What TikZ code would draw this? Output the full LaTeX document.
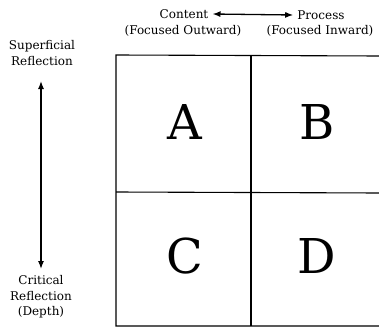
\documentclass[tikz,border=0pt]{standalone}
\usepackage{fontspec}
\setmainfont{DejaVu Serif}
\usetikzlibrary{arrows.meta}
\begin{document}
\begin{tikzpicture}[x=1pt,y=-1pt,
  lbl/.style={font=\fontsize{12}{15.5}\selectfont, align=center, inner sep=0pt},
  big/.style={font=\fontsize{48}{52}\selectfont, inner sep=0pt},
  grid/.style={line width=1.1pt},
  arr/.style={line width=1.3pt, {Latex[length=8pt,width=6pt]}-{Latex[length=8pt,width=6pt]}}]
\useasboundingbox (0,0) rectangle (379,329);
% grid
\coordinate (tl) at (116,55);
\coordinate (tr) at (380,56);
\coordinate (bl) at (116,326);
\coordinate (br) at (380,326);
\coordinate (mt) at (251,55);
\coordinate (mb) at (251,326);
\coordinate (ml) at (116,192);
\coordinate (mr) at (380,193);
\draw[grid] (tr) -- (tl) -- (bl) -- (br);
\draw[grid] (mt) -- (mb);
\draw[grid] (ml) -- (mr);
% letters
\node[big] (A) at (185,122) {A};
\node[big] (B) at (317,122) {B};
\node[big] (C) at (185,256) {C};
\node[big] (D) at (317,256) {D};
% top labels
\node[lbl] (content) at (184,14) {Content};
\node[lbl] (process) at (321,15) {Process};
\node[lbl] (fo) at (183,31) {(Focused Outward)};
\node[lbl] (fi) at (320,31) {(Focused Inward)};
\draw[arr] ([xshift=4pt]content.east) -- ([xshift=-4pt]process.west);
% left labels
\node[lbl] (sup) at (42,53) {Superficial\\Reflection};
\node[lbl] (crit) at (41,297) {Critical\\Reflection\\(Depth)};
\coordinate (up) at (41,81);
\coordinate (dn) at (41,269);
\draw[arr] (up) -- (dn);
\end{tikzpicture}
\end{document}
